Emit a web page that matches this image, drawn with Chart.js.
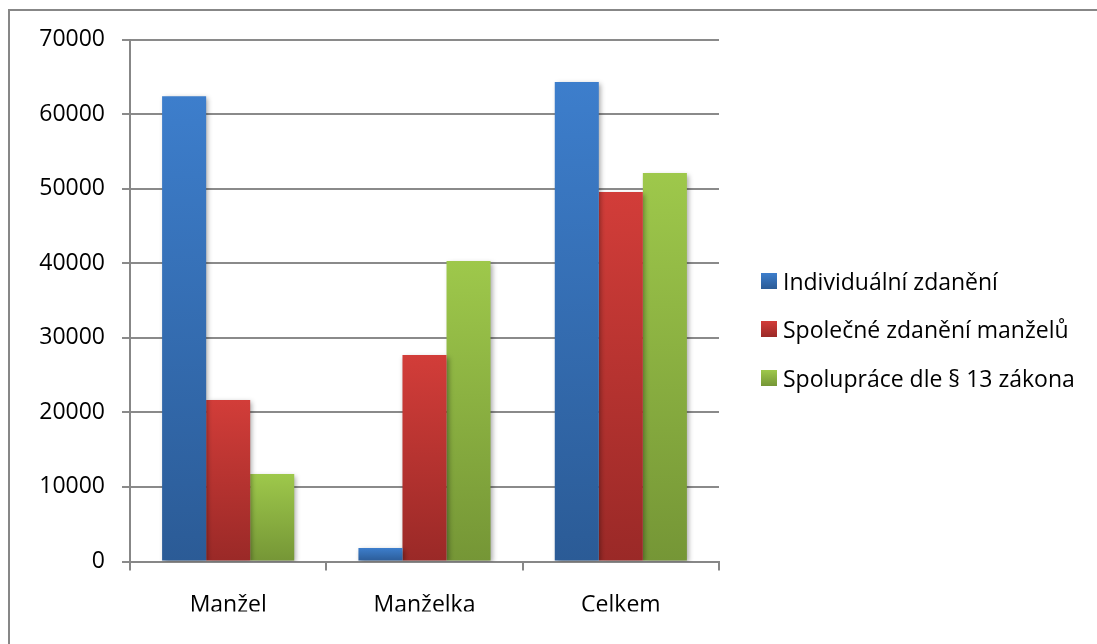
<!DOCTYPE html>
<html>
<head>
<meta charset="utf-8">
<script src="https://cdn.jsdelivr.net/npm/chart.js@4"></script>
<style>
  html, body { margin: 0; padding: 0; background: #fff; overflow: hidden; }
  #wrap { position: relative; width: 1097px; height: 644px; }
  #frame { position: absolute; left: 8px; top: 9px; width: 1200px; height: 800px; border: 2px solid #878787; box-sizing: border-box; }
  #c { position: absolute; left: 0; top: 0; }
  .leg { position: absolute; left: 761px; height: 30px; display: flex; align-items: center; font: 23px "Open Sans", sans-serif; color: #000; white-space: nowrap; }
  .leg i { display: inline-block; width: 16px; height: 16px; margin-right: 6px; }
</style>
</head>
<body>
<div id="wrap">
  <div id="frame"></div>
  <canvas id="c" width="1097" height="644"></canvas>
  <div id="legend"></div>
</div>
<script>
const categories = ['Manžel', 'Manželka', 'Celkem'];
const seriesNames = ['Individuální zdanění', 'Společné zdanění manželů', 'Spolupráce dle § 13 zákona'];
const individualni = [62400, 1800, 64300];
const spolecne = [21650, 27700, 49550];
const spoluprace = [11750, 40300, 52100];
const yTicks = [0, 10000, 20000, 30000, 40000, 50000, 60000, 70000];

const tops = ['#3d7ecc', '#d23d39', '#9ec84b'];
const bottoms = ['#2b5b96', '#9a2927', '#759636'];

function grad(i) {
  return function (ctx) {
    const chart = ctx.chart;
    if (!chart.chartArea || ctx.type !== 'data') return tops[i];
    const y = chart.scales.y;
    const y1 = y.getPixelForValue(ctx.raw);
    const y0 = y.getPixelForValue(0);
    if (y0 - y1 < 1) return tops[i];
    const g = chart.ctx.createLinearGradient(0, y1, 0, y0);
    g.addColorStop(0, tops[i]);
    g.addColorStop(1, bottoms[i]);
    return g;
  };
}

const shadow = {
  id: 'shadow',
  beforeDatasetsDraw(chart) {
    const c = chart.ctx;
    c.save();
    c.shadowColor = 'rgba(0,0,0,0.35)';
    c.shadowBlur = 5;
    c.shadowOffsetX = 2;
    c.shadowOffsetY = 2;
  },
  afterDatasetsDraw(chart) {
    chart.ctx.restore();
  }
};

const font = { family: '"Open Sans", sans-serif', size: 23 };
const ctx = document.getElementById('c').getContext('2d');
const chart = new Chart(ctx, {
  type: 'bar',
  data: {
    labels: categories,
    datasets: [individualni, spolecne, spoluprace].map((d, i) => ({
      label: seriesNames[i],
      data: d,
      backgroundColor: grad(i),
      borderWidth: 0,
      categoryPercentage: 0.673,
      barPercentage: 1.0
    }))
  },
  plugins: [shadow],
  options: {
    responsive: false,
    animation: false,
    layout: { padding: { left: 0, top: 39.5, right: 378, bottom: 32.5 } },
    plugins: { legend: { display: false }, tooltip: { enabled: false } },
    scales: {
      x: {
        grid: { offset: true, drawOnChartArea: false, drawTicks: true, tickLength: 9, color: '#878787', lineWidth: 2 },
        border: { color: '#878787', width: 2 },
        ticks: { font: font, color: '#000', padding: 21 },
        afterFit(s) { s.height = 50; }
      },
      y: {
        min: 0,
        max: 70000,
        afterBuildTicks(s) { s.ticks = yTicks.map(v => ({ value: v })); },
        grid: { color: '#8a8a8a', lineWidth: 2, tickLength: 8 },
        border: { color: '#878787', width: 2 },
        ticks: { font: font, color: '#000', padding: 17, callback: v => String(v) },
        afterFit(s) { s.width = 130; }
      }
    }
  }
});

const legendRows = [281, 329, 378];
const legend = document.getElementById('legend');
seriesNames.forEach((name, i) => {
  const row = document.createElement('div');
  row.className = 'leg';
  row.style.top = (legendRows[i] - 15) + 'px';
  const sw = document.createElement('i');
  sw.style.background = 'linear-gradient(' + tops[i] + ',' + bottoms[i] + ')';
  row.appendChild(sw);
  row.appendChild(document.createTextNode(name));
  legend.appendChild(row);
});
</script>
</body>
</html>
